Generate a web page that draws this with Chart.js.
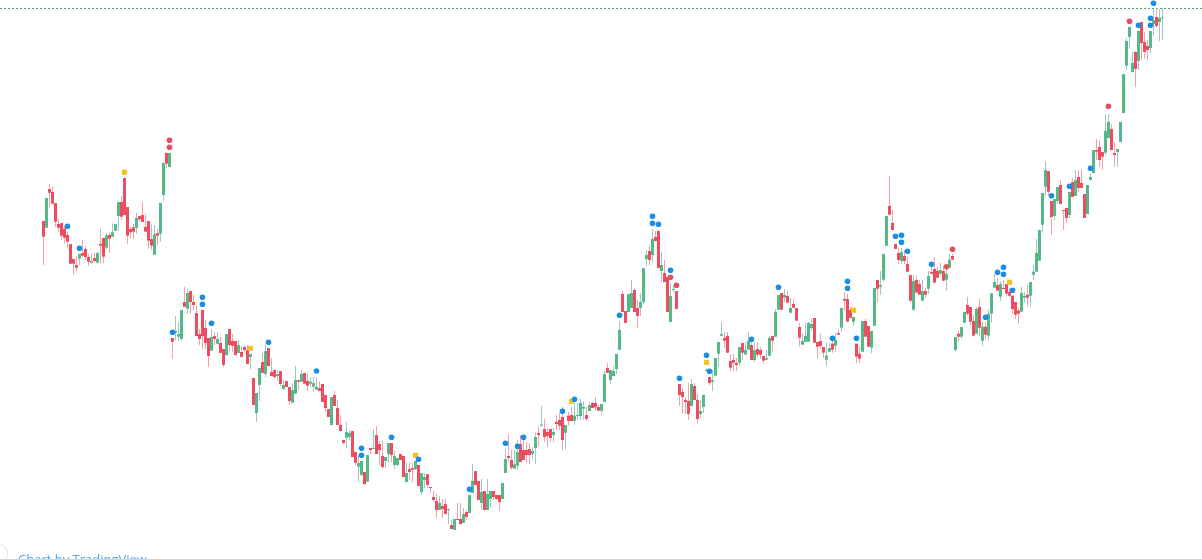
<!DOCTYPE html>
<html>
<head>
<meta charset="utf-8">
<script src="https://cdn.jsdelivr.net/npm/chart.js@4.4.1/dist/chart.umd.min.js"></script>
<style>
html, body { margin: 0; padding: 0; background: #fff; overflow: hidden; }
#wrap { position: relative; width: 1202px; height: 559px; overflow: hidden; }
#credit { position: absolute; left: 18px; top: 550px; font: 13px 'Open Sans', sans-serif; color: #5aa5e6; white-space: nowrap; }
#logo { position: absolute; left: -14px; top: 543px; width: 20px; height: 20px; border: 1.5px solid #dde6ee; border-radius: 50%; }
</style>
</head>
<body>
<div id="wrap"><canvas id="chart"></canvas><div id="logo"></div><div id="credit">Chart by TradingView</div></div>
<script>
// Candles (one per bar, oldest first)
const open = [
  379, 372.3, 411, 408, 397, 376, 377, 371.3, 365, 356,
  341, 335, 341.3, 347, 351, 343, 337.3, 342, 337.3, 356,
  362, 352.3, 365, 363.3, 369.3, 384, 398, 422, 393, 371,
  372.7, 372, 384, 385, 373, 379, 361, 345.3, 367, 366.3,
  405, 447, 433, 262, 267.3, 263.3, 261, 298, 291.3, 309,
  298, 287, 266, 290, 272, 262, 249.3, 264, 256.3, 257,
  251, 245, 271, 259, 259, 247, 248, 253, 250, 243,
  222, 187, 215, 238, 226, 252, 228, 230, 224, 229,
  211, 219, 213, 197.3, 206.3, 220, 218.3, 227, 219, 216.3,
  213.3, 210.3, 212, 216, 205, 191, 175, 205, 192, 175,
  160, 162.3, 163, 169, 148, 133.3, 125, 128, 118.3, 152,
  151, 165, 156, 144, 139, 146, 157, 135, 135, 146,
  144, 118, 131, 132, 131, 135, 108, 120, 126, 113,
  103, 99, 90, 94, 96, 90, 75, 70, 81, 81,
  77, 88, 87, 107, 129, 119, 97, 109, 90, 101,
  109, 105, 105, 101, 127, 144, 140, 131.3, 134.3, 156,
  150, 150, 151, 146, 152, 167, 174.3, 171, 168, 171,
  165, 178, 180, 183, 167.3, 184.3, 185, 179.3, 184, 184,
  191.3, 185, 189, 197, 197, 193, 189.3, 198, 232, 220,
  224, 231, 250, 306, 289, 288, 292, 310, 292, 292,
  298, 341, 349, 345, 363, 369, 329, 327, 323, 278,
  310, 309, 216, 208, 200, 199, 194, 214, 200, 186,
  193, 229, 223, 218.3, 224.3, 246.3, 264.3, 262, 264, 239,
  240, 237, 237.3, 257, 245.3, 250.3, 255, 240, 251, 250,
  244, 240.3, 244.3, 264, 263.3, 290.3, 307, 302.3, 304, 287.3,
  296, 292, 273, 255.3, 258.3, 258.3, 272, 282, 258, 259,
  253, 240.3, 248.3, 256.3, 254.3, 267, 272.3, 301, 301, 290,
  278.3, 256.3, 246.3, 248.3, 279, 274, 252.3, 274.3, 320, 313.3,
  320.3, 354.3, 394, 377, 356, 347, 339, 344, 336, 325,
  290.3, 320, 316, 299.3, 309, 311.3, 328, 331, 329, 326.3,
  329, 320.3, 332.3, 344, 250, 266.3, 263.3, 277.3, 295, 293,
  279, 266.3, 293, 259.3, 273.3, 264.3, 286.3, 312.3, 315, 303.3,
  312, 316, 308, 304.3, 298, 289.3, 288.3, 302.3, 305.3, 304.3,
  325.3, 328.3, 339.3, 375.3, 413.3, 429, 399, 384, 399, 415,
  390, 392, 385, 418, 404, 423, 417, 406, 386, 420,
  427, 450, 453, 448, 447.3, 462, 471, 447, 448, 458,
  487, 534.3, 563, 528, 548, 539, 578, 558, 554, 552,
  576, 583, 578, 581.5
];
const high = [
  379, 402, 416, 413, 397, 381, 377, 374, 368.3, 356,
  341, 344, 346, 360, 354, 346, 346.7, 347.3, 348.3, 371.3,
  362, 367.3, 367.3, 376.7, 376, 398, 404, 422, 393, 373.3,
  376, 387, 384, 398, 386, 379, 376, 375, 371, 397,
  437, 447, 447, 262, 284, 278, 290, 313, 311, 309,
  305, 294, 271, 290, 280, 262, 271, 268, 268, 263,
  251, 266, 271, 266, 259, 260, 254, 255, 255, 246,
  222, 207, 232, 247, 255, 252, 242, 230, 230, 229,
  220, 219, 213, 217, 234, 220, 230, 227, 226, 223,
  223.3, 223, 219, 216, 205, 191, 203, 209, 200, 185,
  160, 178, 170, 169, 148, 145, 139, 128, 145, 152,
  171, 174, 159, 159, 143, 157, 157, 149, 142, 146,
  144, 137, 137, 137, 139, 135, 127, 127, 126, 113,
  109, 106, 104, 101, 101, 91, 80, 81, 97, 97,
  92, 90, 105, 136, 129, 119, 121, 109, 121, 109,
  109, 105, 105, 117, 151, 166, 150, 150, 160, 165,
  164, 158, 157, 153, 167, 173, 194, 181, 172, 171,
  172, 185, 187, 193, 175, 188.3, 193, 196.7, 197, 201,
  199, 193, 198, 198, 203, 195, 196, 229, 237, 230,
  234, 246, 279, 309, 289, 306, 320, 312, 300, 307,
  332, 350, 354, 371, 369, 370, 348, 340, 323, 317,
  315, 309, 216, 212, 203, 217, 221, 217, 206, 200,
  205, 232, 223, 230, 242, 258, 278, 268, 268, 246,
  246, 242, 253, 257, 258, 268, 263, 258, 258, 253,
  244, 250, 264, 264, 291, 305, 307, 311, 309, 302,
  301, 292, 277, 267, 277.3, 278, 281, 282, 258, 266.3,
  253, 257.3, 257.3, 259.3, 267.3, 270, 292, 308, 306, 293,
  283, 256.3, 253.3, 279, 281.3, 274, 269, 312, 320, 329,
  346, 384, 424, 390, 356, 352, 352, 350, 343, 325,
  325, 325, 320, 320, 312, 329, 338, 343, 333, 337,
  334, 331, 346.3, 346, 263, 270, 273, 288, 303, 293,
  284.3, 293, 301, 278.3, 278.3, 290.3, 306.7, 326, 322, 319,
  320, 316, 311.3, 304.3, 298, 292, 313, 308, 316, 318,
  335, 361, 370, 407, 439, 429, 399, 401, 413, 420,
  390, 392, 408, 422, 430, 430, 430, 406, 415, 426,
  450, 461, 460, 448, 486, 486, 476, 458, 451, 478,
  526, 562, 573, 548, 549, 569, 578, 568, 560, 569,
  591, 592, 591, 592
];
const low = [
  335, 372.3, 392.3, 396.3, 373, 368.3, 360.3, 356.3, 351.3, 336.3,
  325.3, 328.3, 335, 343.3, 340, 334.3, 337.3, 337.3, 336.7, 336.7,
  337, 351.3, 347.3, 363.3, 369.3, 369.3, 380, 385, 356.3, 362,
  361.3, 366.3, 378, 378, 368.3, 351.3, 350.3, 345.3, 354.7, 358.3,
  399.3, 432.3, 433, 241.3, 260, 259, 259, 293.3, 286.3, 286.3,
  290, 264, 255, 251, 251, 233, 249.3, 255, 256.3, 247,
  233, 244, 248, 248, 245, 247, 243, 248, 236, 231,
  195, 178, 199, 227, 223, 234, 224, 221, 219, 214,
  210, 213, 195, 197.3, 206.3, 210, 218.3, 216.3, 209.3, 213.3,
  208.3, 210.3, 209, 198, 188, 183, 175, 194, 175, 169,
  156, 152, 160, 143, 135, 118.3, 124, 115, 118.3, 146,
  151, 146, 135, 131, 132, 137, 138, 131, 134, 140,
  123, 118, 120, 118, 130, 114, 106, 112, 112, 107,
  98, 82, 90, 82, 86, 76, 71, 70, 80, 76,
  77, 80, 87, 107, 115, 100, 90, 90, 90, 93,
  100, 100, 89, 101, 127, 138.3, 130, 131.3, 130, 138,
  140, 137, 136, 141, 136.3, 154, 174.3, 158, 153, 158,
  158, 170, 170, 150, 151, 174.3, 179, 175.3, 180, 180,
  180, 179, 189, 192, 190, 189.3, 185, 198, 227, 216,
  224, 226, 250, 288, 277, 288, 292, 288, 272, 284,
  296, 334, 335, 337, 359, 332, 318, 318, 288, 278,
  308, 291, 194, 187, 186, 180, 194, 200, 177, 182,
  187, 229, 215, 209, 224.3, 233.3, 264.3, 252, 247.3, 229,
  229, 229, 234.3, 240, 245.3, 250.3, 240, 238, 243.3, 241.3,
  236.3, 240.3, 244.3, 248.3, 263.3, 290.3, 290.3, 298, 297.3, 286.3,
  292.3, 279.3, 253.3, 255.3, 258.3, 258.3, 269.3, 257.3, 242.3, 251.3,
  242.3, 234.3, 248.3, 247.3, 248.3, 265.3, 268.3, 289.3, 278.3, 281.3,
  274.3, 237.3, 237.3, 248.3, 263.3, 253.3, 246.7, 274.3, 297.3, 305.3,
  318.3, 354.3, 385.3, 370, 351, 336, 336, 336, 328.3, 298.3,
  289.3, 307.3, 305.3, 299.3, 302.3, 306.3, 326.3, 317.3, 322.3, 324.3,
  319.3, 309.3, 332.3, 340.3, 249, 258.3, 261.3, 277.3, 284.3, 274.3,
  264.3, 266.3, 264.3, 254.3, 261.3, 259.3, 277.3, 312.3, 309.3, 299.3,
  311, 303.3, 303.3, 286.3, 281.3, 276.3, 288.3, 297.3, 293.3, 294.3,
  320.3, 328.3, 339.3, 367.3, 404, 404.3, 365, 380, 396, 396,
  370, 377, 382, 403, 404, 408, 412, 382, 386, 420,
  427, 440, 433, 430, 445, 462, 450, 433.3, 433.3, 458,
  487, 530, 551, 528, 513, 530, 540, 541, 540, 547,
  565, 572, 559, 560
];
const close = [
  363.3, 402, 407.3, 396.3, 378.3, 372.3, 364.3, 362.3, 358.3, 336.3,
  336.3, 332.3, 346, 344.3, 343, 338.3, 339, 339, 347, 354.3,
  343.3, 364.7, 361.3, 367.7, 376, 398, 383.3, 385, 364.3, 367.7,
  368.3, 382, 380.7, 378, 368.3, 359.3, 354.3, 365.7, 364.3, 397,
  437, 436.3, 447, 258.3, 269, 266, 290, 293.3, 307, 298,
  295, 264, 261, 264, 257, 244, 263, 261, 261, 247,
  235, 266, 255, 254, 245, 255, 243, 250, 236, 246,
  195, 207, 232, 227, 249, 234, 224, 223, 226, 216,
  215, 213, 199, 210, 220, 218.3, 226, 216.3, 214.3, 218.3,
  217, 213.3, 209, 198, 192, 183, 203, 194, 175, 169,
  157, 168, 167, 143, 137.3, 137, 139, 116, 145, 150,
  152, 146, 150, 133, 143, 157, 145, 144, 142, 140,
  123, 127, 128, 130.3, 139, 114, 127, 123, 115, 112,
  100, 90, 97, 91, 86, 91, 71, 81, 80, 76,
  86, 83, 105, 119, 115, 100, 108, 90, 106, 109,
  103, 101, 98, 117, 141, 142, 132.3, 135.7, 148, 138,
  140, 145, 145, 149, 163, 165, 175, 163, 164, 162,
  168, 176, 174.3, 160, 175, 179, 179, 184.3, 185, 197,
  193, 181, 195, 192, 192.7, 189.3, 196, 226, 227, 230,
  229, 246, 270, 288, 277, 306, 307, 288, 284, 298,
  332, 345, 340, 361, 359, 332, 335, 318, 288, 304,
  311, 291, 205, 203, 198, 186, 216, 200, 181, 189,
  205, 230, 217, 220, 242, 258, 266, 259.3, 247.3, 232.3,
  237.3, 235, 253, 247.3, 250, 259, 240, 250, 245.3, 245.3,
  239.3, 242, 262, 259.3, 288, 305, 290.3, 305, 297.3, 292,
  292.3, 279.3, 262.3, 259, 264, 277, 276, 257.3, 253.3, 254,
  247.3, 244.3, 252, 250.3, 260, 265.3, 292, 299.3, 278.3, 282.3,
  283, 243.3, 241.3, 279, 263.3, 253.3, 269, 312, 311.3, 315,
  346, 384, 385.3, 370, 351, 340, 348, 339, 328.3, 299.3,
  319, 307.3, 305.3, 309, 305.3, 324, 326.3, 317.3, 322.3, 330,
  319.3, 326.3, 340.3, 340.3, 263, 263.3, 273, 288, 286.3, 278.3,
  264.3, 291, 272.3, 273.3, 265.3, 286.3, 306.7, 318, 309.3, 316,
  311, 306.3, 304.3, 291, 285.3, 286.3, 307, 304, 302.3, 318,
  328.3, 347, 370, 407, 430, 408.3, 383, 401, 413, 396,
  389, 382, 408, 403, 420, 412, 412, 382, 415, 423,
  450, 448.3, 440, 443.3, 469, 478, 450, 445, 451, 478,
  526, 559, 573, 537, 531, 569, 557, 548, 550, 569,
  580, 574, 582, 582.5
];

// Signal markers: bar index and price
const blueIdx = [8, 12, 43, 53, 53, 56, 75, 91, 106, 106, 116, 125, 142, 154, 158, 160, 173, 177, 192, 203, 203, 205, 209, 212, 221, 222, 236, 245, 263, 268, 268, 271, 284, 286, 286, 288, 296, 314, 318, 320, 320, 323, 336, 342, 349, 365, 369, 369, 370];
const blueVal = [373.7, 351.7, 267.7, 302.7, 295.7, 276.7, 257.7, 229, 151.7, 144.7, 162.7, 140.7, 110.7, 156.7, 153.7, 162.7, 188.7, 200.7, 284.7, 383.7, 376.7, 375.7, 329.7, 221.7, 244.7, 228.7, 260.7, 312.7, 261.7, 318.7, 311.7, 261.7, 363.7, 364.7, 357.7, 348.7, 335.7, 282.7, 327.7, 332.7, 325.7, 309.7, 404.3, 413.7, 431.7, 574.7, 581.7, 574.7, 596.7];
const redIdx = [42, 42, 209, 211, 301, 303, 355, 362];
const redVal = [459.7, 452.7, 322.7, 314.7, 333.3, 350.7, 493.7, 578.7];
const yellowIdx = [27, 69, 124, 176, 221, 270, 322];
const yellowVal = [427.7, 251.7, 144.7, 198.7, 237.7, 289.7, 317.7];

const PRICE_LINE = 591.5;

// Colours
const UP = '#52b987';
const DOWN = '#ee4c5f';
const UP_WICK = '#9fc8c4';
const DOWN_WICK = '#f3a1ab';

// view window (bar index range, price range)
const X_MIN = -14.5;
const X_MAX = X_MIN + 1202 / 3;
const Y_MIN = 41;
const Y_MAX = 600;

const idx = open.map((_, i) => i);
const isUp = idx.map(i => close[i] >= open[i]);
const wickData = idx.map(i => ({ x: i, y: [low[i], high[i]] }));
const bodyData = idx.map(i => ({ x: i, y: [Math.min(open[i], close[i]), Math.max(open[i], close[i])] }));
const toPoints = (xs, ys) => xs.map((x, k) => ({ x: x, y: ys[k] }));

const ctx = document.getElementById('chart').getContext('2d');
new Chart(ctx, {
  type: 'bar',
  data: {
    datasets: [
      {
        label: 'price line',
        type: 'line',
        data: [{ x: X_MIN, y: PRICE_LINE }, { x: X_MAX, y: PRICE_LINE }],
        borderColor: '#43ad74',
        borderWidth: 1,
        borderDash: [2, 2],
        pointRadius: 0,
        order: 4
      },
      {
        label: 'wicks',
        data: wickData,
        backgroundColor: isUp.map(u => u ? UP_WICK : DOWN_WICK),
        barThickness: 1,
        order: 3
      },
      {
        label: 'bodies',
        data: bodyData,
        backgroundColor: isUp.map(u => u ? UP : DOWN),
        barThickness: 3,
        minBarLength: 1,
        order: 2
      },
      {
        label: 'blue',
        type: 'scatter',
        data: toPoints(blueIdx, blueVal),
        backgroundColor: '#1b8de6',
        borderWidth: 0,
        pointRadius: 2.8,
        order: 1
      },
      {
        label: 'red',
        type: 'scatter',
        data: toPoints(redIdx, redVal),
        backgroundColor: '#e5505f',
        borderWidth: 0,
        pointRadius: 2.8,
        order: 1
      },
      {
        label: 'yellow',
        type: 'scatter',
        data: toPoints(yellowIdx, yellowVal),
        backgroundColor: '#f7c21c',
        borderWidth: 0,
        pointStyle: 'rect',
        pointRadius: 3.6,
        order: 1
      }
    ]
  },
  options: {
    animation: false,
    responsive: true,
    maintainAspectRatio: false,
    layout: { padding: 0, autoPadding: false },
    datasets: {
      bar: { grouped: false, inflateAmount: 0, borderWidth: 0 }
    },
    plugins: {
      legend: { display: false },
      tooltip: { enabled: false }
    },
    scales: {
      x: { type: 'linear', display: false, offset: false, min: X_MIN, max: X_MAX },
      y: { display: false, min: Y_MIN, max: Y_MAX }
    }
  }
});
</script>
</body>
</html>
